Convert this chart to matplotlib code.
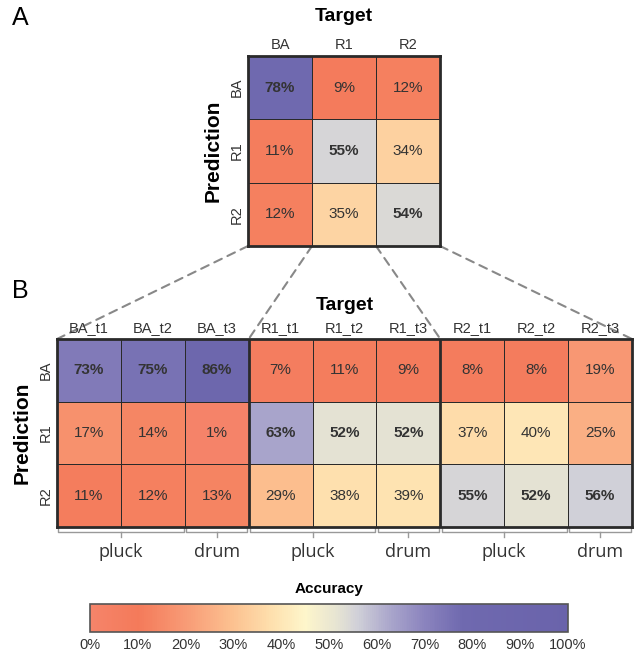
import numpy as np
import matplotlib
matplotlib.use('Agg')
import matplotlib.pyplot as plt
from matplotlib.colors import LinearSegmentedColormap
from matplotlib.patches import ConnectionPatch

plt.rcParams['font.family'] = ['Liberation Sans', 'DejaVu Sans']

# Panel A data
classes = ['BA', 'R1', 'R2']
acc_a = [[78, 9, 12],
         [11, 55, 34],
         [12, 35, 54]]

# Panel B data
targets_b = ['BA_t1', 'BA_t2', 'BA_t3', 'R1_t1', 'R1_t2', 'R1_t3',
             'R2_t1', 'R2_t2', 'R2_t3']
acc_b = [[73, 75, 86, 7, 11, 9, 8, 8, 19],
         [17, 14, 1, 63, 52, 52, 37, 40, 25],
         [11, 12, 13, 29, 38, 39, 55, 52, 56]]
group_labels = ['pluck', 'drum']
cbar_ticks = [0, 10, 20, 30, 40, 50, 60, 70, 80, 90, 100]

# colour map
cmap = LinearSegmentedColormap.from_list('acc', [
    (0.00, '#F5846A'), (0.10, '#F47A5A'), (0.20, '#F89B76'),
    (0.30, '#FCC291'), (0.38, '#FEE0AE'), (0.45, '#FEF6CB'),
    (0.52, '#E5E3D3'), (0.56, '#D0D0D8'), (0.63, '#A9A5CB'),
    (0.70, '#8B84BE'), (0.78, '#6F69AF'), (1.00, '#6A63AB')])

txt = '#333333'
edge = '#2a2a2a'

fig = plt.figure(figsize=(6.34, 6.56), dpi=100)


def draw_grid(ax, data, row_labels, col_labels, block):
    data = np.array(data)
    nr, nc = data.shape
    ax.pcolormesh(np.arange(nc + 1), np.arange(nr + 1), data, cmap=cmap,
                  vmin=0, vmax=100, edgecolors=edge, linewidth=0.5)
    ax.set_xlim(0, nc)
    ax.set_ylim(nr, 0)
    for i in range(nr):
        for j in range(nc):
            bold = (j // block) == i
            ax.text(j + 0.5, i + 0.5, f'{data[i, j]}%', ha='center', va='center',
                    fontsize=11, color=txt, fontweight='bold' if bold else 'normal')
    ax.set_xticks(np.arange(nc) + 0.5)
    ax.set_xticklabels(col_labels, fontsize=10.5, color=txt)
    ax.set_yticks(np.arange(nr) + 0.5)
    ax.set_yticklabels(row_labels, fontsize=10.5, color=txt, rotation=90, va='center')
    ax.xaxis.tick_top()
    ax.tick_params(length=0, pad=3)
    for s in ax.spines.values():
        s.set_linewidth(2)
        s.set_color(edge)
    # thick block separators (panel B only)
    if block > 1:
        for k in range(block, nc, block):
            ax.axvline(k, color=edge, linewidth=2)


# ---- panel A
ax_a = fig.add_axes([248 / 634, 1 - 246 / 656, 192 / 634, 190 / 656])
draw_grid(ax_a, acc_a, classes, classes, 1)
ax_a.set_title('Target', fontsize=14, fontweight='bold', pad=25)
ax_a.set_ylabel('Prediction', fontsize=15, fontweight='bold', labelpad=5)

# ---- panel B
ax_b = fig.add_axes([57 / 634, 1 - 527 / 656, 575 / 634, 188 / 656])
draw_grid(ax_b, acc_b, classes, targets_b, 3)
ax_b.set_title('Target', fontsize=14, fontweight='bold', pad=21)
ax_b.set_ylabel('Prediction', fontsize=15, fontweight='bold', labelpad=5)

# brackets under panel B
for g in range(3):
    spans = [(3 * g, 3 * g + 2, group_labels[0]), (3 * g + 2, 3 * g + 3, group_labels[1])]
    for x0, x1, lab in spans:
        a, b = x0 + 0.02, x1 - 0.02
        ax_b.plot([a, a, b, b], [3.02, 3.08, 3.08, 3.02], color='#999999',
                  linewidth=1, clip_on=False)
        xm = (x0 + x1) / 2
        ax_b.plot([xm, xm], [3.08, 3.16], color='#999999', linewidth=1, clip_on=False)
        ax_b.text(xm, 3.4, lab, ha='center', va='center', fontsize=13,
                  color=txt, family='Open Sans')

# dashed zoom lines from A to B
for k in range(4):
    con = ConnectionPatch(xyA=(k, 3), coordsA=ax_a.transData,
                          xyB=(3 * k, 0), coordsB=ax_b.transData,
                          color='#888888', linestyle=(0, (4, 3)), linewidth=1.5,
                          zorder=-1)
    fig.add_artist(con)

# ---- colour bar
cax = fig.add_axes([90 / 634, 1 - 632 / 656, 478 / 634, 28 / 656])
sm = plt.cm.ScalarMappable(cmap=cmap, norm=plt.Normalize(0, 100))
cb = fig.colorbar(sm, cax=cax, orientation='horizontal')
cb.set_ticks(cbar_ticks)
cb.set_ticklabels([f'{t}%' for t in cbar_ticks])
cax.tick_params(length=0, labelsize=10.5, labelcolor=txt, pad=4)
cb.outline.set_linewidth(1.2)
cb.outline.set_edgecolor('#555555')
cax.set_title('Accuracy', fontsize=11, fontweight='bold', pad=8)

fig.text(12 / 634, 1 - 18 / 656, 'A', fontsize=18, ha='left', va='center')
fig.text(12 / 634, 1 - 291 / 656, 'B', fontsize=18, ha='left', va='center')

fig.savefig('out.png', dpi=100)
